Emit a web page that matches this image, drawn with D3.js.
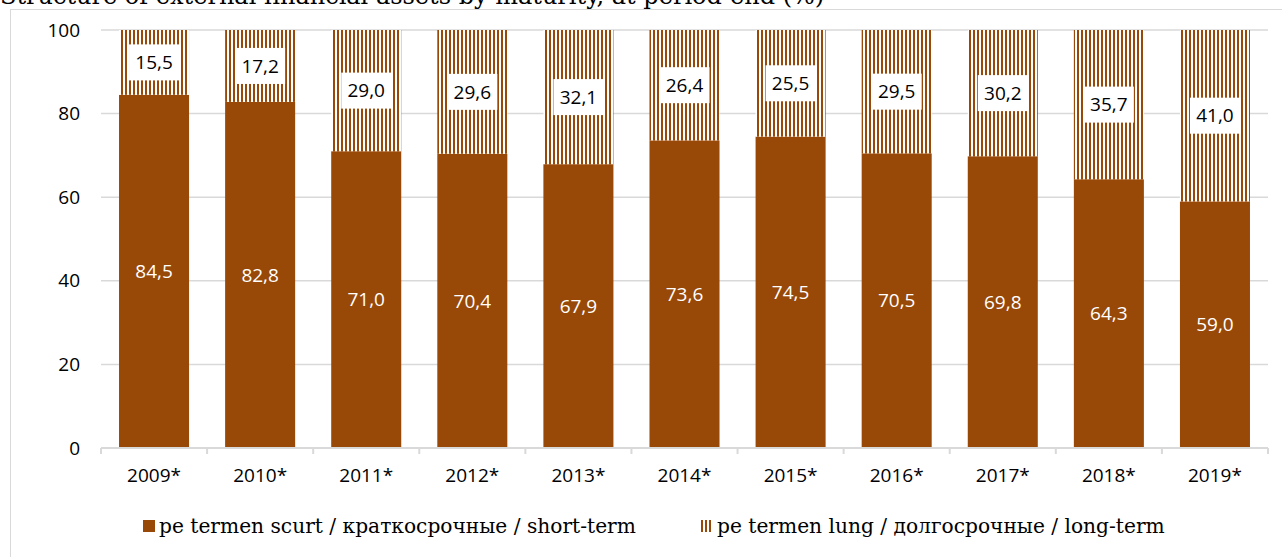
<!DOCTYPE html>
<html>
<head>
<meta charset="utf-8">
<script src="https://cdn.jsdelivr.net/npm/d3@7"></script>
<style>
  body { margin: 0; background: #fff; }
  svg { display: block; }
</style>
</head>
<body>
<svg id="chart" width="1282" height="557"></svg>
<script>
// maturity structure, per cent
const years = ["2009*", "2010*", "2011*", "2012*", "2013*", "2014*", "2015*", "2016*", "2017*", "2018*", "2019*"];
const shortTerm = [84.5, 82.8, 71.0, 70.4, 67.9, 73.6, 74.5, 70.5, 69.8, 64.3, 59.0];
const longTerm = [15.5, 17.2, 29.0, 29.6, 32.1, 26.4, 25.5, 29.5, 30.2, 35.7, 41.0];
const yTicks = [0, 20, 40, 60, 80, 100];
const seriesNames = ["pe termen scurt / краткосрочные / short-term", "pe termen lung / долгосрочные / long-term"];

const BROWN = "#984807";
const SANS = "Open Sans, sans-serif";
const SERIF = "DejaVu Serif, serif";
const fmt = (v) => v.toFixed(1).replace(".", ",");

let svg = d3.select("#chart");
let margin = {left: 101, top: 30, right: 14, bottom: 109};
let width = +svg.attr("width") - margin.left - margin.right;
let height = +svg.attr("height") - margin.top - margin.bottom;

// stripe pattern for long-term
let defs = svg.append("defs");
let pat = defs.append("pattern")
    .attr("id", "stripes")
    .attr("patternUnits", "userSpaceOnUse")
    .attr("width", 4)
    .attr("height", 10);
pat.append("rect").attr("width", 4).attr("height", 10).attr("fill", "#fff");
pat.append("rect").attr("x", 0).attr("width", 2).attr("height", 10).attr("fill", BROWN);

// title, cut at the top like in the source
svg.append("text")
    .attr("x", 0)
    .attr("y", 4)
    .attr("font-family", SERIF)
    .attr("font-size", 24)
    .attr("fill", "#000")
    .text("Structure of external financial assets by maturity, at period-end (%)");

// frame
svg.append("rect")
    .attr("x", 10.5).attr("y", 9.5)
    .attr("width", 1300).attr("height", 600)
    .attr("fill", "none")
    .attr("stroke", "#d9d9d9")
    .attr("stroke-width", 1);

let x = d3.scaleBand().domain(years).range([0, width]).paddingInner(0.34).paddingOuter(0.17);
let xb = d3.scaleBand().domain(years).range([0, width]);
let y = d3.scaleLinear().domain([0, 100]).range([height, 0]);

let g = svg.append("g").attr("transform", `translate(${margin.left}, ${margin.top})`);

// gridlines
g.selectAll(".grid")
    .data(yTicks.filter(d => d > 0))
    .enter()
    .append("line")
    .attr("x1", 0).attr("x2", width)
    .attr("y1", d => y(d)).attr("y2", d => y(d))
    .attr("stroke", "#d9d9d9")
    .attr("stroke-width", 1.5);

// y labels
g.selectAll(".ylab")
    .data(yTicks)
    .enter()
    .append("text")
    .attr("x", -21)
    .attr("y", d => y(d))
    .attr("dy", "0.35em")
    .attr("text-anchor", "end")
    .attr("font-family", SANS)
    .attr("font-size", 19)
    .attr("fill", "#000")
    .text(d => d);

// short-term bars
g.selectAll(".short")
    .data(years)
    .enter()
    .append("rect")
    .attr("x", d => x(d))
    .attr("width", x.bandwidth())
    .attr("y", (d, i) => y(shortTerm[i]))
    .attr("height", (d, i) => y(0) - y(shortTerm[i]))
    .attr("fill", BROWN);

// long-term bars
g.selectAll(".long")
    .data(years)
    .enter()
    .append("rect")
    .attr("x", d => x(d))
    .attr("width", x.bandwidth())
    .attr("y", (d, i) => y(shortTerm[i] + longTerm[i]))
    .attr("height", (d, i) => y(shortTerm[i]) - y(shortTerm[i] + longTerm[i]))
    .attr("fill", "url(#stripes)");

// short labels
g.selectAll(".slab")
    .data(years)
    .enter()
    .append("text")
    .attr("x", d => x(d) + x.bandwidth() / 2)
    .attr("y", (d, i) => y(shortTerm[i] / 2))
    .attr("dy", "0.35em")
    .attr("text-anchor", "middle")
    .attr("font-family", SANS)
    .attr("font-size", 19)
    .attr("fill", "#fff")
    .text((d, i) => fmt(shortTerm[i]));

// long labels with white boxes
let lg = g.selectAll(".llab")
    .data(years)
    .enter()
    .append("g")
    .attr("transform", (d, i) => `translate(${x(d) + x.bandwidth() / 2}, ${y(shortTerm[i] + longTerm[i] / 2)})`);
lg.append("rect")
    .attr("x", -25).attr("y", -18)
    .attr("width", 50).attr("height", 36)
    .attr("fill", "#fff");
lg.append("text")
    .attr("dy", "0.35em")
    .attr("text-anchor", "middle")
    .attr("font-family", SANS)
    .attr("font-size", 19)
    .attr("fill", "#000")
    .text((d, i) => fmt(longTerm[i]));

// x axis
g.append("line")
    .attr("x1", 0).attr("x2", width)
    .attr("y1", height).attr("y2", height)
    .attr("stroke", "#d9d9d9")
    .attr("stroke-width", 2);
g.selectAll(".tick")
    .data(years.concat(["end"]))
    .enter()
    .append("line")
    .attr("x1", (d, i) => i < years.length ? xb(d) : width)
    .attr("x2", (d, i) => i < years.length ? xb(d) : width)
    .attr("y1", height).attr("y2", height + 6)
    .attr("stroke", "#d9d9d9")
    .attr("stroke-width", 2);
g.selectAll(".xlab")
    .data(years)
    .enter()
    .append("text")
    .attr("x", d => xb(d) + xb.bandwidth() / 2)
    .attr("y", height + 34)
    .attr("text-anchor", "middle")
    .attr("font-family", SANS)
    .attr("font-size", 19)
    .attr("fill", "#000")
    .text(d => d);

// legend
const legendX = [143, 701];
let legend = svg.selectAll(".legend")
    .data(seriesNames)
    .enter()
    .append("g")
    .attr("transform", (d, i) => `translate(${legendX[i]}, 520)`);
legend.append("rect")
    .attr("width", 12).attr("height", 12)
    .attr("fill", (d, i) => i === 0 ? BROWN : "url(#stripes)");
legend.append("text")
    .attr("x", 16)
    .attr("y", 13)
    .attr("font-family", SERIF)
    .attr("font-size", 20.2)
    .attr("fill", "#000")
    .text(d => d);
</script>
</body>
</html>
